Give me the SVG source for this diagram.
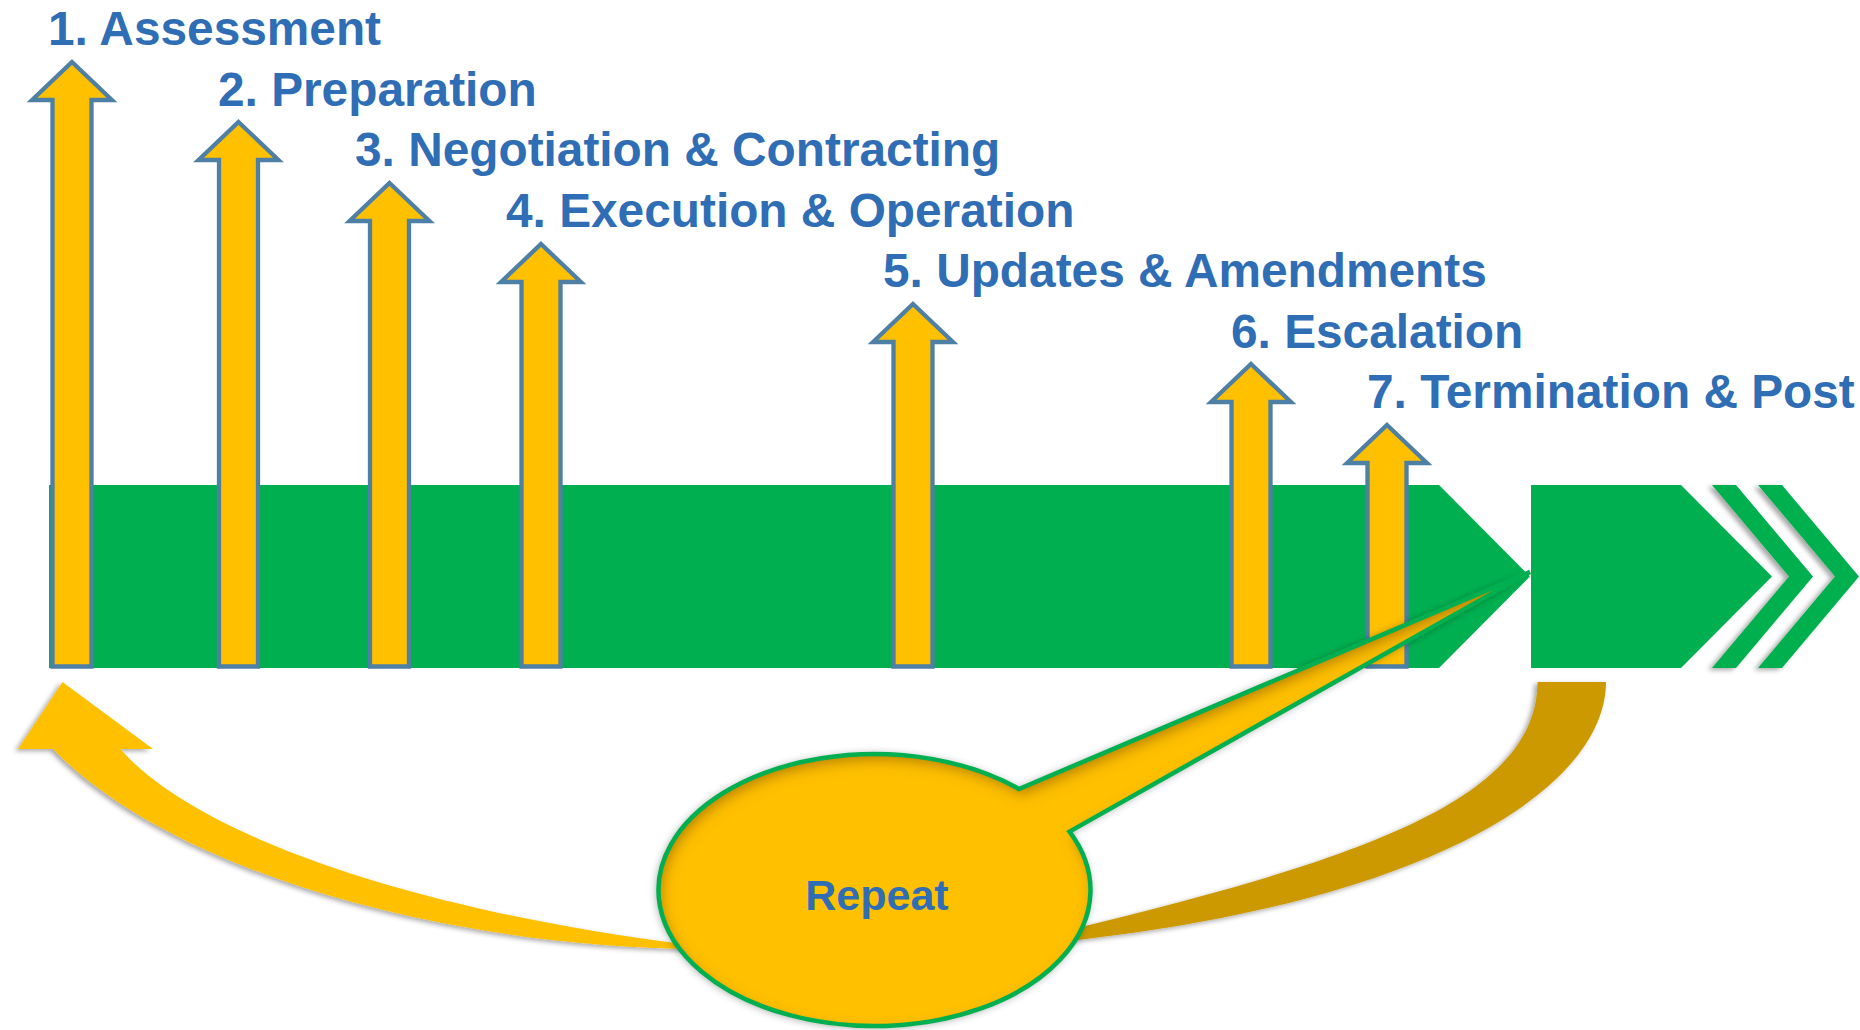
<svg xmlns="http://www.w3.org/2000/svg" width="1860" height="1030" viewBox="0 0 1860 1030">
<defs>
<style>
.lbl{font-family:"Liberation Sans",Arial,sans-serif;font-weight:bold;font-size:47.8px;fill:#2F6DB5}
.rep{font-family:"Liberation Sans",Arial,sans-serif;font-weight:bold;font-size:43px;fill:#2F6DB5}
.up{fill:#FFC000;stroke:#4E7FA4;stroke-width:4.3;stroke-linejoin:miter}
.green{fill:#00B050}
</style>
<filter id="chevShadow" x="-30%" y="-10%" width="160%" height="130%">
<feDropShadow dx="-4" dy="2" stdDeviation="2.5" flood-color="#000" flood-opacity="0.35"/>
</filter>
<filter id="arcShadow" x="-10%" y="-10%" width="120%" height="130%">
<feDropShadow dx="-3" dy="2" stdDeviation="2.5" flood-color="#000" flood-opacity="0.35"/>
</filter>
<filter id="callFx" x="-15%" y="-15%" width="130%" height="130%">
<feComponentTransfer in="SourceAlpha" result="inv"><feFuncA type="table" tableValues="1 0"/></feComponentTransfer>
<feGaussianBlur in="inv" stdDeviation="7"/>
<feOffset dx="3" dy="6" result="ob"/>
<feFlood flood-color="#7A4A00" flood-opacity="0.7"/>
<feComposite in2="ob" operator="in"/>
<feComposite in2="SourceAlpha" operator="in" result="inner"/>
<feGaussianBlur in="SourceAlpha" stdDeviation="5"/>
<feOffset dx="-1" dy="1"/>
<feComponentTransfer result="outer"><feFuncA type="linear" slope="0.45"/></feComponentTransfer>
<feMerge><feMergeNode in="outer"/><feMergeNode in="SourceGraphic"/><feMergeNode in="inner"/></feMerge>
</filter>
</defs>

<g id="timeline">
<polygon class="green" points="49,485 1439,485 1530,576.5 1439,668 49,668"/>
<polygon class="green" points="1531,485 1681,485 1772,576.5 1681,668 1531,668"/>
<g filter="url(#chevShadow)">
<polygon class="green" points="1712,485 1736,485 1813,576.5 1736,668 1712,668 1789,576.5"/>
<polygon class="green" points="1758,485 1782,485 1859,576.5 1782,668 1758,668 1835,576.5"/>
</g>
</g>

<g id="stage-1">
<path class="up" d="M72,62 L112,100 L91.5,100 L91.5,666.5 L52.5,666.5 L52.5,100 L32,100 Z"/>
<text class="lbl" x="48" y="45">1. Assessment</text>
</g>
<g id="stage-2">
<path class="up" d="M238.5,122 L278.5,160 L258,160 L258,666.5 L219,666.5 L219,160 L198.5,160 Z"/>
<text class="lbl" x="218" y="106">2. Preparation</text>
</g>
<g id="stage-3">
<path class="up" d="M389.5,183 L429.5,221 L409,221 L409,666.5 L370,666.5 L370,221 L349.5,221 Z"/>
<text class="lbl" x="355" y="166">3. Negotiation &amp; Contracting</text>
</g>
<g id="stage-4">
<path class="up" d="M541,244 L581,282 L560.5,282 L560.5,666.5 L521.5,666.5 L521.5,282 L501,282 Z"/>
<text class="lbl" x="506" y="227">4. Execution &amp; Operation</text>
</g>
<g id="stage-5">
<path class="up" d="M913,304 L953,342 L932.5,342 L932.5,666.5 L893.5,666.5 L893.5,342 L873,342 Z"/>
<text class="lbl" x="883" y="287">5. Updates &amp; Amendments</text>
</g>
<g id="stage-6">
<path class="up" d="M1251,364 L1291,402 L1270.5,402 L1270.5,666.5 L1231.5,666.5 L1231.5,402 L1211,402 Z"/>
<text class="lbl" x="1231" y="348">6. Escalation</text>
</g>
<g id="stage-7">
<path class="up" d="M1387,425 L1427,463 L1406.5,463 L1406.5,666.5 L1367.5,666.5 L1367.5,463 L1347,463 Z"/>
<text class="lbl" x="1367" y="408">7. Termination &amp; Post</text>
</g>

<g id="connectors">
<path filter="url(#arcShadow)" fill="#FFC000" d="M700,949 C440,947 170,870 53,749 L18,749 L62.5,682 L153,749 L120.5,749 C190,830 400,910 700,946 Z"/>
<path filter="url(#arcShadow)" fill="#CC9900" d="M1537.5,682 L1606,682 C1606,780 1450,900 1060,942 L1060,932 C1360,860 1537,800 1537.5,682 Z"/>
</g>

<g id="repeat">
<path filter="url(#callFx)" fill="#FFC000" d="M1019,789 L1530,572 L1069.5,831.6 A216,136 0 1 1 1019,789 Z"/>
<path fill="none" stroke="#00B050" stroke-width="4.5" stroke-linejoin="miter" d="M1019,789 L1530,572 L1069.5,831.6 A216,136 0 1 1 1019,789 Z"/>
<text class="rep" x="877" y="910" text-anchor="middle">Repeat</text>
</g>
</svg>
